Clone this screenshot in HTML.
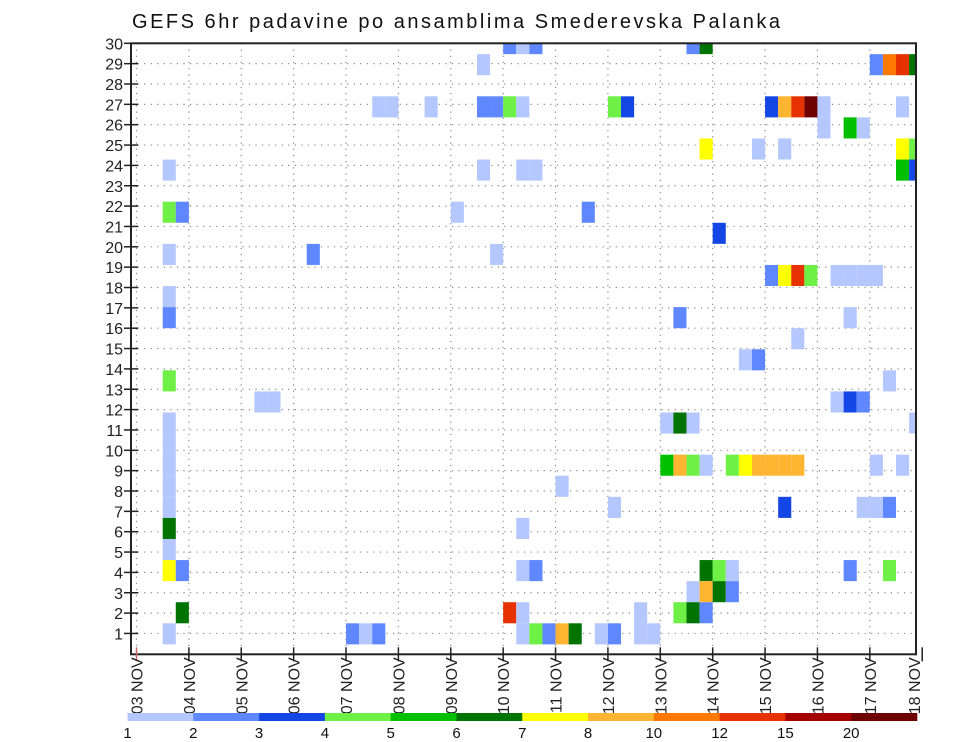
<!DOCTYPE html>
<html><head><meta charset="utf-8">
<style>
html,body{margin:0;padding:0;background:#fff;}
svg{display:block;font-family:"Liberation Sans",sans-serif;}
</style></head>
<body>
<svg id="chart" width="960" height="742" viewBox="0 0 960 742" xmlns="http://www.w3.org/2000/svg">
<text x="132" y="28" font-size="20" textLength="648" fill="#111">GEFS 6hr padavine po ansamblima Smederevska Palanka</text>
<g id="grid"></g>
<g id="cells"></g>
<g id="axes"></g>
<g id="colorbar"></g>
</svg>
<script>
// ---- data ----
const dayLabels = ["03 NOV","04 NOV","05 NOV","06 NOV","07 NOV","08 NOV","09 NOV","10 NOV","11 NOV","12 NOV","13 NOV","14 NOV","15 NOV","16 NOV","17 NOV","18 NOV"];
const rowLabels = [1,2,3,4,5,6,7,8,9,10,11,12,13,14,15,16,17,18,19,20,21,22,23,24,25,26,27,28,29,30];
const binEdges = [1,2,3,4,5,6,7,8,10,12,15,20];
const binColors = ["#b4c8ff","#5f87ff","#1446e6","#6ef046","#00c000","#007300","#ffff00","#ffb432","#ff7800","#e63200","#a50000","#6e0000"];
// cell column = 6-hour step index from 03 NOV 00Z, cell row = member row index
const cellCol = [28,29,30,42,43, 26,56,57,58,59,
 18,19,22,26,27,28,29,36,37,48,49,50,51,52,58,
 52,54,55, 43,47,49,58,59, 2,26,29,30,58,59,
 2,3,24,34, 44, 2,13,27, 48,49,50,51,53,54,55,56,
 2, 2,41,54, 50, 46,47, 57,2, 53,54,55,9,10,
 40,41,42,59,2, 2, 2,40,41,42,43,45,46,47,48,49,50,56,58,
 32,2, 36,49,55,56,57,2, 2,29, 2,
 2,3,29,30,43,44,45,54,57,
 42,43,44,45,
 3,28,29,38,41,42,43,
 2,16,17,18,29,30,31,32,33,35,36,38,39];
const cellRow = [28,28,28,28,28, 27,27,27,27,27,
 25,25,25,25,25,25,25,25,25,25,25,25,25,25,25,
 24,24,24, 23,23,23,23,23, 22,22,22,22,22,22,
 20,20,20,20, 19, 18,18,18, 17,17,17,17,17,17,17,17,
 16, 15,15,15, 14, 13,13, 12,12, 11,11,11,11,11,
 10,10,10,10,10, 9, 8,8,8,8,8,8,8,8,8,8,8,8,8,
 7,7, 6,6,6,6,6,6, 5,5, 4,
 3,3,3,3,3,3,3,3,3,
 2,2,2,2,
 1,1,1,1,1,1,1,
 0,0,0,0,0,0,0,0,0,0,0,0,0];
const cellVal = [2,1,2,2,6, 1,2,10,12,6,
 1,1,1,2,2,4,1,4,3,3,8,12,20,1,1,
 1,5,1, 7,1,1,7,4, 1,1,1,1,5,3,
 4,2,1,2, 3, 1,2,1, 2,7,12,4,1,1,1,1,
 1, 2,2,1, 1, 1,2, 1,4, 1,3,2,1,1,
 1,6,1,1,1, 1, 1,5,8,4,1,4,7,8,8,8,8,1,1,
 1,1, 1,3,1,1,2,1, 6,1, 1,
 7,2,1,2,6,4,1,2,4,
 1,8,6,2,
 6,12,1,1,4,6,2,
 1,2,1,2,1,4,2,8,6,1,2,1,1];

// ---- scales ----
const X0 = 136.5, DAY = 52.38, STEP = DAY/4;
const PL = 131, PR = 916, PT = 43.3, PB = 654.3;
const xDay = d => X0 + d*DAY;
const xCol = c => X0 + c*STEP;
const yLabel = k => 43.3 + (30-k)*20.35;
const ROWH = 21.08;
const yRowTop = r => 623.3 - r*ROWH;
const colorFor = v => { let i=0; for (let j=0;j<binEdges.length;j++) if (v>=binEdges[j]) i=j; return binColors[i]; };

const NS = "http://www.w3.org/2000/svg";
function mk(tag, attrs, parent){ const e=document.createElementNS(NS,tag); for(const k in attrs) e.setAttribute(k,attrs[k]); parent.appendChild(e); return e; }

// grid
const grid = document.getElementById('grid');
rowLabels.forEach(k => {
  const y = yLabel(k);
  const l = mk('line',{x1:PL,x2:PR,y1:y,y2:y,stroke:'#888','stroke-width':1.2,'stroke-dasharray':'1.2 5.35'},grid);
  
  
});
dayLabels.forEach((d,i) => {
  const x = xDay(i);
  if (x<=PL || x>=PR) return;
  const l = mk('line',{x1:x,x2:x,y1:PT,y2:PB,stroke:'#888','stroke-width':1.2,'stroke-dasharray':'1.2 5'},grid);
  
  
});

// cells
const cellsG = document.getElementById('cells');
for (let i=0;i<cellCol.length;i++){
  const x = xCol(cellCol[i]);
  let y = yRowTop(cellRow[i]);
  let h = ROWH;
  if (y < PT){ h -= (PT-y); y = PT; }
  let w = STEP;
  if (x + w > PR) w = PR - x;
  const r = mk('rect',{x:x.toFixed(2),y:y.toFixed(2),width:w.toFixed(2),height:h.toFixed(2),fill:colorFor(cellVal[i])},cellsG);
  
  
}

// axes
const axes = document.getElementById('axes');
const frame = mk('rect',{x:PL,y:PT,width:PR-PL,height:PB-PT,fill:'none',stroke:'#222','stroke-width':2},axes);


rowLabels.forEach(k => {
  const y = yLabel(k);
  const t = mk('line',{x1:124,x2:138,y1:y,y2:y,stroke:'#222','stroke-width':1.5},axes);
  
  
  const tx = mk('text',{x:123,y:y+6,'font-size':16,'text-anchor':'end',fill:'#222'},axes);
  tx.textContent = k;
  
  
});
dayLabels.forEach((d,i) => {
  const x = xDay(i);
  const t = mk('line',{x1:x,x2:x,y1:PB-7,y2:PB+7,stroke: i===0?'#c66':'#222','stroke-width':1.5},axes);
  
  
  const tx = mk('text',{x:0,y:0,'font-size':16,'text-anchor':'end',fill:'#222',transform:`translate(${(Math.min(x,914)+6).toFixed(1)},${PB+3}) rotate(-90)`},axes);
  tx.textContent = d;
  
  
});

// colorbar
const cb = document.getElementById('colorbar');
const CB0 = 127.5, CB1 = 917, CBW = (CB1-CB0)/binColors.length;
binColors.forEach((c,i) => {
  const r = mk('rect',{x:(CB0+i*CBW).toFixed(2),y:713,width:(CBW+0.3).toFixed(2),height:8,fill:c},cb);
  
  
});
binEdges.forEach((v,i) => {
  const tx = mk('text',{x:(CB0+i*CBW).toFixed(1),y:738,'font-size':15,'text-anchor':'middle',fill:'#111'},cb);
  tx.textContent = v;
  
  
});
</script>
</body></html>
